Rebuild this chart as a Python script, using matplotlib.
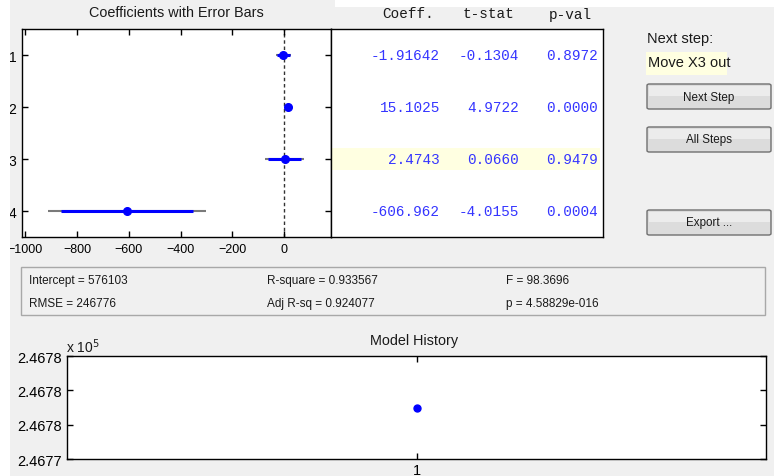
"""Stepwise regression window: coefficients, table, stats and model history."""
import numpy as np
import matplotlib
matplotlib.use("Agg")
import matplotlib.pyplot as plt
from matplotlib.patches import Rectangle, FancyBboxPatch
from matplotlib.ticker import FuncFormatter

plt.rcParams["font.family"] = ["Liberation Sans", "DejaVu Sans"]

W, H = 774, 477
BG = "#f0f0f0"
MONO = "Liberation Mono"

# ---- data ----
terms = [1, 2, 3, 4]
coef = [-1.91642, 15.1025, 2.4743, -606.962]
tstat = [-0.1304, 4.9722, 0.0660, -4.0155]
pval = [0.8972, 0.0000, 0.9479, 0.0004]
ci95_lo = [-31.0, 9.0, -74.0, -914.0]
ci95_hi = [27.0, 21.2, 79.0, -300.0]
ci90_lo = [-26.5, 10.0, -61.0, -863.0]
ci90_hi = [22.7, 20.2, 66.0, -351.0]
coef_xticks = [-1000, -800, -600, -400, -200, 0]
highlight_row = 3
next_step = "Move X3 out"

intercept = 576103
rmse = 246776
rsq = 0.933567
adj_rsq = 0.924077
fstat = 98.3696
p_model = 4.58829e-16

history_steps = [1]
history_rmse = [246776]


def rect(l, t, r, b):
    return [l / W, 1 - b / H, (r - l) / W, (b - t) / H]


def ftext(x, y, s, **kw):
    fig.text(x / W, 1 - y / H, s, **kw)


fig = plt.figure(figsize=(W / 100, H / 100), dpi=100, facecolor=BG)

# ---- coefficients with error bars ----
ax = fig.add_axes(rect(22, 30, 331, 238))
ax.axvline(0, color="#333333", lw=1, ls=(0, (2.5, 2)), zorder=1)
ax.hlines(terms, ci95_lo, ci95_hi, color="#7a7a7a", lw=1.5, zorder=2)
ax.hlines(terms, ci90_lo, ci90_hi, color="blue", lw=2.2, zorder=3)
ax.plot(coef, terms, "o", color="blue", ms=5.5, zorder=4)
ax.set_xlim(-1013, 182)
ax.set_ylim(4.5, 0.5)
ax.set_xticks(coef_xticks)
ax.set_yticks(terms)
ax.tick_params(direction="in", length=4, width=1, top=True, right=True,
               labelsize=9, colors="black")
ax.tick_params(axis="y", pad=4, labelsize=10)
ax.tick_params(axis="x", pad=4)
for s in ax.spines.values():
    s.set_linewidth(1)
ftext(176, 13, "Coefficients with Error Bars", ha="center", va="center",
      fontsize=10.4, color="#1a1a1a")

# ---- table of coefficients ----
tax = fig.add_axes(rect(331, 30, 603, 238))
tax.set_xlim(331, 603)
tax.set_ylim(4.5, 0.5)
tax.set_xticks([]); tax.set_yticks([])
for s in tax.spines.values():
    s.set_linewidth(1)
tax.axhspan(highlight_row - 0.21, highlight_row + 0.21, xmin=0.004,
            xmax=(600 - 331) / 272, color="#ffffe1", lw=0)
for y, c, t, p in zip(terms, coef, tstat, pval):
    for xr, s in [(440, f"{c:.6g}"), (519, f"{t:.4f}"), (598, f"{p:.4f}")]:
        tax.text(xr, y, s, ha="right", va="center", family=MONO,
                 fontsize=10.4, color="#3535ff")
for xc, s in [(408, "Coeff."), (488, "t-stat"), (570, "p-val")]:
    ftext(xc, 18.5, s, ha="center", va="baseline", family=MONO,
          fontsize=10.4, color="#1a1a1a")

# ---- right panel ----
ftext(647, 39, "Next step:", ha="left", va="center", fontsize=10.5,
      color="#1a1a1a")
fig.add_artist(Rectangle((646 / W, 1 - 76 / H), 81 / W, 23 / H,
                         transform=fig.transFigure, fc="#ffffe1", lw=0))
ftext(648, 63, next_step, ha="left", va="center", fontsize=10.5,
      color="#1a1a1a")


def button(label, top):
    l, r, b = 647, 771, top + 25
    fig.add_artist(FancyBboxPatch((l / W, 1 - b / H), (r - l) / W, 25 / H,
                                  boxstyle="round,pad=0,rounding_size=0.003",
                                  transform=fig.transFigure, fc="#dcdcdc",
                                  ec="#707070", lw=1))
    fig.add_artist(Rectangle(((l + 1.5) / W, 1 - (top + 12) / H),
                             (r - l - 3) / W, 10.5 / H,
                             transform=fig.transFigure, fc="#ececec", lw=0))
    ftext((l + r) / 2, top + 12.5, label, ha="center", va="center",
          fontsize=8.4, color="#1a1a1a")


button("Next Step", 85)
button("All Steps", 128)
button("Export ...", 211)

# ---- summary statistics box ----
fig.add_artist(Rectangle((21 / W, 1 - 316 / H), 744 / W, 48 / H,
                         transform=fig.transFigure, fill=False,
                         ec="#a8a8a8", lw=1))
mant, ex = f"{p_model:.5e}".split("e")
stats = [
    (29, 281, f"Intercept = {intercept}"),
    (29, 304, f"RMSE = {rmse}"),
    (267, 281, f"R-square = {rsq:g}"),
    (267, 304, f"Adj R-sq = {adj_rsq:g}"),
    (506, 281, f"F = {fstat:g}"),
    (506, 304, f"p = {mant}e{int(ex):+04d}"),
]
for x, y, s in stats:
    ftext(x, y, s, ha="left", va="center", fontsize=8.5, color="#1a1a1a")

# ---- model history ----
hax = fig.add_axes(rect(67, 357, 766, 460))
hax.plot(history_steps, history_rmse, "o", color="blue", ms=5)
hax.set_xlim(0, 2)
lo, hi = history_rmse[0] - 1.6, history_rmse[0] + 1.6
hax.set_ylim(lo, hi)
hax.set_xticks(history_steps)
hax.set_yticks(np.linspace(lo, hi, 4))
hax.yaxis.set_major_formatter(FuncFormatter(lambda v, _: f"{v / 1e5:.4f}"))
hax.tick_params(direction="in", length=4, width=1, top=True, right=True,
                labelsize=10.5, colors="black")
hax.tick_params(axis="x", pad=3)
for s in hax.spines.values():
    s.set_linewidth(1)
ftext(414, 341, "Model History", ha="center", va="center", fontsize=10.4,
      color="#1a1a1a")
ftext(66, 347, r"x 10$^{5}$", ha="left", va="center", fontsize=10,
      color="#1a1a1a")

# ---- screenshot edges ----
fig.add_artist(Rectangle((0, 0), 9.5 / W, 1, transform=fig.transFigure,
                         color="white", lw=0, zorder=100))
fig.add_artist(Rectangle((335 / W, 1 - 8 / H), (W - 335) / W, 8 / H,
                         transform=fig.transFigure, color="white", lw=0,
                         zorder=100))

fig.savefig("out.png", dpi=100, facecolor=BG)
